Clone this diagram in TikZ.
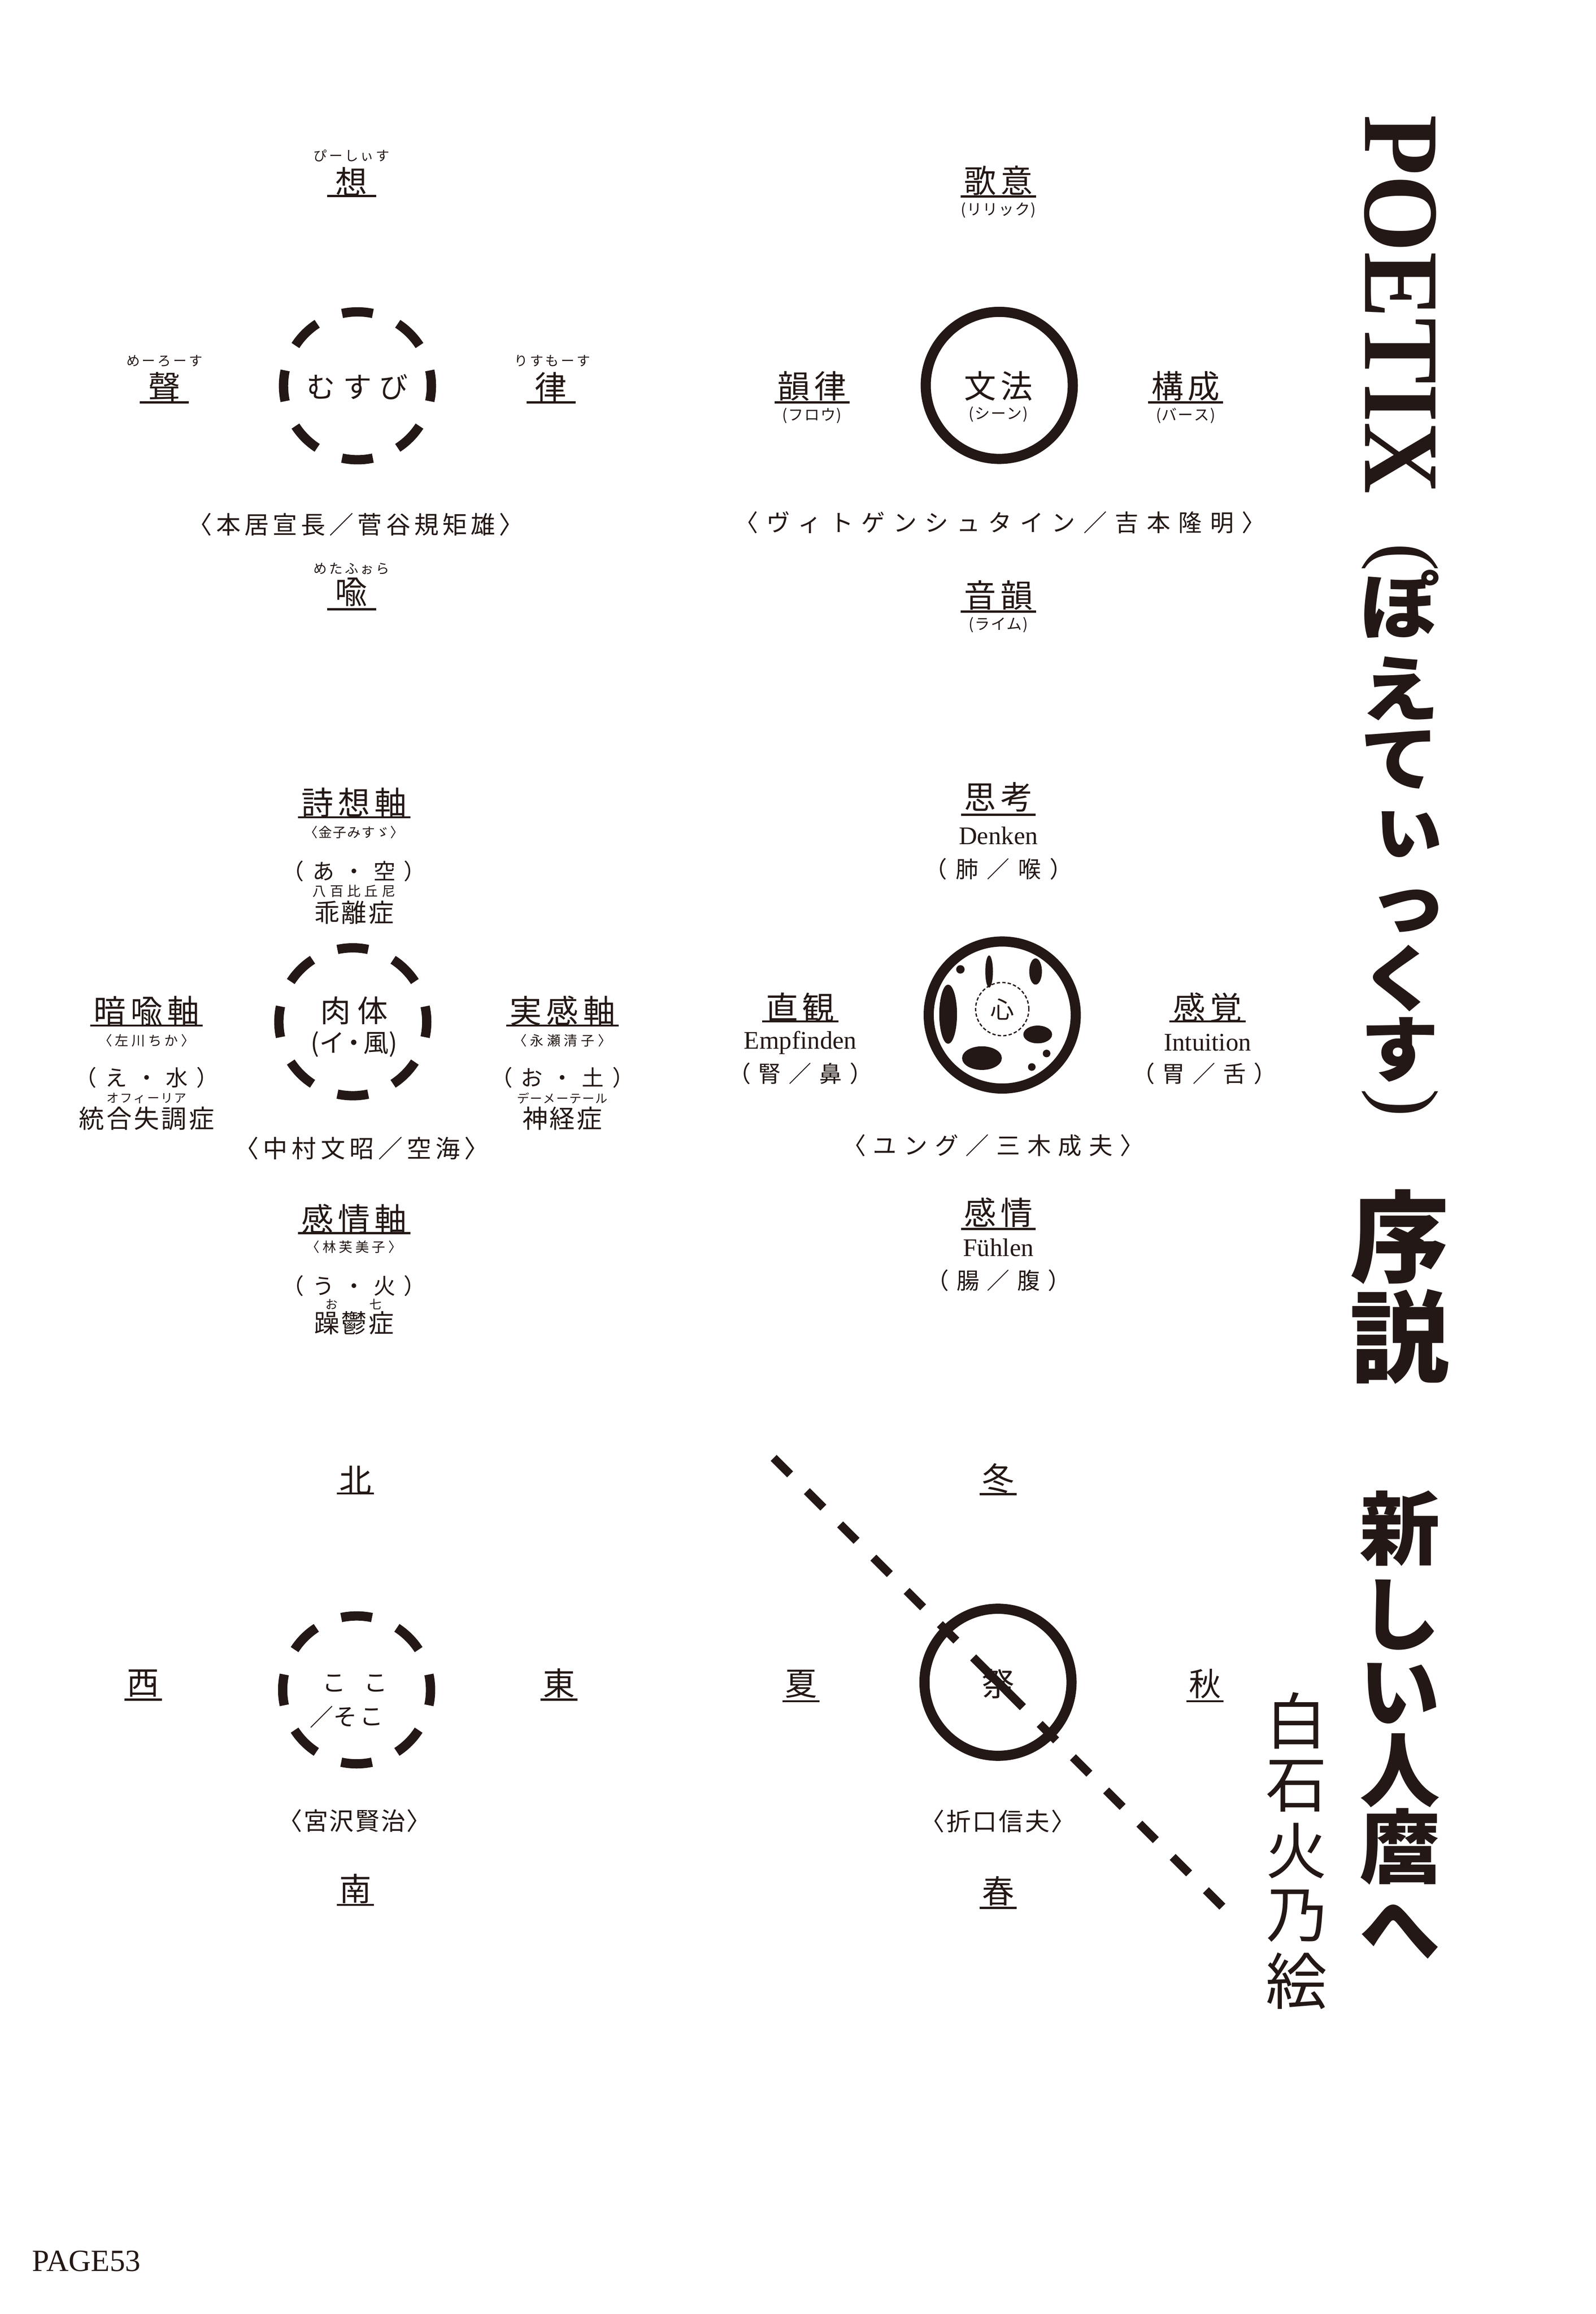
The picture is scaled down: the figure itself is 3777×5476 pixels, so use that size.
\documentclass[tikz,border=0pt]{standalone}
\usepackage{tikz}
\usepackage{graphicx}
\usepackage{fontspec}
\setmainfont{Liberation Serif}
\newfontfamily\jp{Noto Sans CJK JP}
\definecolor{ink}{RGB}{35,24,21}
\newcommand\fs[1]{\fontsize{#1}{#1}\selectfont}
\newcommand\wide[1]{\scalebox{1.1}[1]{#1}}
\ExplSyntaxOn
\cs_new_protected:Npn \trk #1#2 { \tl_map_inline:nn {#2} { ##1 \kern #1 } \kern -#1 }
\ExplSyntaxOff
\newcommand\ulin[3]{\draw[ul] ([shift={(-#2,#3)}]#1.center) -- ([shift={(#2,#3)}]#1.center);}
\newcommand\dashring[1]{\foreach \a in {0,45,...,315} \draw[dring] ([shift={(\a-12:175)}]#1) arc[start angle=\a-12, end angle=\a+12, radius=175];}
\tikzset{
  every node/.style={inner sep=0pt, outer sep=0pt, text=ink},
  lab/.style={font=\jp\fs{76}},
  rb/.style={font=\jp\fs{32}},
  sm/.style={font=\jp\fs{36}},
  cite/.style={font=\jp\fs{58}},
  kv/.style={font=\jp\fs{52}},
  org/.style={font=\jp\fs{54}},
  sym/.style={font=\jp\fs{60}},
  tiny/.style={font=\jp\fs{29}},
  lat/.style={font=\fs{60}},
  ul/.style={draw=ink, line width=5pt},
  dring/.style={draw=ink, line width=22pt},
  sring/.style={draw=ink, line width=24pt, circle, minimum size=348pt, inner sep=0pt},
  ttl/.style={font=\jp\bfseries\fs{190}, text height=152pt, text depth=0pt},
  ttlk/.style={font=\jp\bfseries\fs{170}, text height=136pt, text depth=0pt},
  ttlsm/.style={font=\jp\bfseries\fs{170}, text height=90pt, text depth=0pt},
  ttlbig/.style={font=\jp\bfseries\fs{235}, text height=188pt, text depth=0pt},
  ttlpar/.style={font=\fs{200}, rotate=-90},
  auth/.style={font=\jp\fs{145}},
}
\begin{document}
\begin{tikzpicture}[x=1pt,y=-1pt]
\fill[white] (0,0) rectangle (3777,5476);
\useasboundingbox (0,0) rectangle (3777,5476);

% ---------- top left ----------
\node[lab] (sou) at (832,430) {想};
\node[rb] (souR) at (832,369) {\trk{5pt}{ぴーしぃす}};
\ulin{sou}{58}{34}
\node[lab] (sei) at (389,916) {聲};
\node[rb] (seiR) at (389,854) {\trk{5pt}{めーろーす}};
\ulin{sei}{58}{36}
\node[lab] (ritsu) at (1304,916) {律};
\node[rb] (ritsuR) at (1307,854) {\trk{5pt}{りすもーす}};
\ulin{ritsu}{58}{36}
\coordinate (r1) at (846,913);
\dashring{r1}
\node[font=\jp\fs{68}] (musubi) at (846,916) {\trk{18pt}{むすび}};
\node[cite] (c1) at (842,1241) {\trk{9pt}{〈本居宣長／菅谷規矩雄〉}};
\node[lab] (yu) at (832,1401) {喩};
\node[rb] (yuR) at (832,1346) {\trk{5pt}{めたふぉら}};
\ulin{yu}{58}{41}

% ---------- top right ----------
\node[lab] (kai) at (2363,427) {\trk{10pt}{歌意}};
\ulin{kai}{89}{38}
\node[sm] (kaiP) at (2363,497) {\trk{2pt}{(リリック)}};
\node[sring] (bunpo) at (2365,912) {};
\node[lab] (bunpoT) at (2363,914) {\trk{10pt}{文法}};
\node[sm] (bunpoP) at (2363,980) {\trk{2pt}{(シーン)}};
\node[lab] (inritsu) at (1922,914) {\trk{10pt}{韻律}};
\ulin{inritsu}{89}{38}
\node[sm] (inritsuP) at (1922,984) {\trk{2pt}{(フロウ)}};
\node[lab] (kosei) at (2806,914) {\trk{10pt}{構成}};
\ulin{kosei}{89}{38}
\node[sm] (koseiP) at (2806,984) {\trk{2pt}{(バース)}};
\node[font=\jp\fs{56}] (c2) at (2367,1237) {\trk{19pt}{〈ヴィトゲンシュタイン／吉本隆明〉}};
\node[lab] (onin) at (2363,1409) {\trk{10pt}{音韻}};
\ulin{onin}{89}{38}
\node[sm] (oninP) at (2363,1479) {\trk{2pt}{(ライム)}};

% ---------- middle left ----------
\node[lab] (shiso) at (838,1899) {\trk{11pt}{詩想軸}};
\ulin{shiso}{133}{35}
\node[rb] (shisoA) at (838,1970) {\trk{2pt}{〈金子みすゞ〉}};
\node[kv] (shisoB) at (838,2062) {\trk{20pt}{（あ・空）}};
\node[rb] (shisoR) at (838,2109) {\trk{9pt}{八百比丘尼}};
\node[sym] (shisoC) at (838,2159) {\trk{4pt}{乖離症}};
\coordinate (r2) at (835,2418);
\dashring{r2}
\node[font=\jp\fs{72}] (nikutai) at (838,2392) {\trk{16pt}{肉体}};
\node[sym] (nikutaiP) at (838,2471) {(イ\kern-8pt・\kern-8pt風)};
\node[lab] (anyu) at (347,2392) {\trk{11pt}{暗喩軸}};
\ulin{anyu}{133}{35}
\node[rb] (anyuA) at (347,2462) {\trk{7pt}{〈左川ちか〉}};
\node[kv] (anyuB) at (347,2550) {\trk{20pt}{（え・水）}};
\node[tiny] (anyuR) at (347,2599) {\trk{3pt}{オフィーリア}};
\node[sym] (anyuC) at (347,2647) {\trk{5pt}{統合失調症}};
\node[lab] (jikkan) at (1331,2392) {\trk{11pt}{実感軸}};
\ulin{jikkan}{133}{35}
\node[rb] (jikkanA) at (1331,2462) {\trk{8pt}{〈永瀬清子〉}};
\node[kv] (jikkanB) at (1331,2550) {\trk{20pt}{（お・土）}};
\node[tiny] (jikkanR) at (1331,2599) {\trk{2pt}{デーメーテール}};
\node[sym] (jikkanC) at (1331,2647) {\trk{4pt}{神経症}};
\node[cite] (c3) at (856,2718) {\trk{10pt}{〈中村文昭／空海〉}};
\node[lab] (kanjo) at (838,2885) {\trk{11pt}{感情軸}};
\ulin{kanjo}{133}{33}
\node[rb] (kanjoA) at (838,2951) {\trk{7pt}{〈林芙美子〉}};
\node[kv] (kanjoB) at (838,3043) {\trk{20pt}{（う・火）}};
\node[tiny] (kanjoR1) at (785,3087) {お};
\node[tiny] (kanjoR2) at (889,3087) {七};
\node[sym] (kanjoC) at (838,3131) {\trk{4pt}{躁鬱症}};

% ---------- middle right ----------
\node[lab] (shiko) at (2363,1886) {\trk{10pt}{思考}};
\ulin{shiko}{88}{42}
\node[lat] (shikoL) at (2363,1978) {Denken};
\node[org] (shikoO) at (2363,2056) {\trk{20pt}{（肺／喉）}};
\node[sring] (kokoro) at (2372,2402) {};
\node[circle, draw=ink, line width=3pt, dash pattern=on 8pt off 5pt, minimum size=126pt] (kin) at (2372,2388) {};
\node[font=\jp\fs{56}] (shin) at (2372,2388) {心};
\fill[ink] (2273,2294) circle[radius=10];
\fill[ink] (2341,2299) ellipse[x radius=9, y radius=38];
\fill[ink] (2451,2299) ellipse[x radius=15, y radius=31];
\fill[ink] (2244,2400) ellipse[x radius=21, y radius=70];
\fill[ink] (2456,2448) ellipse[x radius=34, y radius=21];
\fill[ink] (2324,2504) ellipse[x radius=47, y radius=28];
\fill[ink] (2477,2493) circle[radius=9];
\fill[ink] (2442,2525) circle[radius=9];
\node[lab] (chokkan) at (1894,2384) {\trk{10pt}{直観}};
\ulin{chokkan}{90}{33}
\node[lat] (chokkanL) at (1894,2467) {Empfinden};
\node[org] (chokkanO) at (1894,2541) {\trk{18pt}{（腎／鼻）}};
\node[lab] (kankaku) at (2858,2384) {\trk{10pt}{感覚}};
\ulin{kankaku}{90}{33}
\node[lat] (kankakuL) at (2858,2467) {Intuition};
\node[org] (kankakuO) at (2850,2541) {\trk{18pt}{（胃／舌）}};
\node[font=\jp\fs{56}] (c4) at (2350,2711) {\trk{17pt}{〈ユング／三木成夫〉}};
\node[lab] (kanjo2) at (2363,2869) {\trk{10pt}{感情}};
\ulin{kanjo2}{88}{39}
\node[lat] (kanjo2L) at (2363,2952) {Fühlen};
\node[org] (kanjo2O) at (2363,3030) {\trk{18pt}{（腸／腹）}};

% ---------- bottom left ----------
\node[lab] (kita) at (841,3503) {北};
\ulin{kita}{44}{31}
\coordinate (r3) at (844,3999);
\dashring{r3}
\node[font=\jp\fs{56}] (ko1) at (791,3983) {こ};
\node[font=\jp\fs{56}] (ko2) at (889,3983) {こ};
\node[font=\jp\fs{56}] (sl) at (761,4063) {／};
\node[font=\jp\fs{56}] (so) at (817,4063) {そ};
\node[font=\jp\fs{56}] (ko3) at (879,4063) {こ};
\node[lab] (nishi) at (339,3983) {西};
\ulin{nishi}{44}{39}
\node[lab] (higashi) at (1323,3983) {東};
\ulin{higashi}{44}{39}
\node[cite] (c5) at (839,4309) {\trk{3pt}{〈宮沢賢治〉}};
\node[lab] (minami) at (841,4470) {南};
\ulin{minami}{44}{38}

% ---------- bottom right ----------
\node[lab] (fuyu) at (2362,3499) {冬};
\ulin{fuyu}{44}{37}
\node[sring] (matsuri) at (2362,3981) {};
\coordinate (dA) at (1831,3450);
\coordinate (dB) at (2893,4512);
\draw[ink, line width=20pt, dash pattern=on 55pt off 56.3pt] (dA) -- (dB);
\draw[ink, line width=20pt] ([shift={(-58.7,-58.7)}]matsuri.center) -- ([shift={(58.7,58.7)}]matsuri.center);
\node[lab] (matsuriT) at (2362,3985) {祭};
\node[lab] (natsu) at (1896,3985) {夏};
\ulin{natsu}{44}{41}
\node[lab] (aki) at (2852,3985) {秋};
\ulin{aki}{44}{41}
\node[cite] (c6) at (2362,4310) {\trk{4pt}{〈折口信夫〉}};
\node[lab] (haru) at (2362,4475) {春};
\ulin{haru}{44}{40}

% ---------- title ----------
\node[font=\bfseries\fs{254}, rotate=-90, anchor=base west] (poetix) at (3231,272) {\scalebox{0.92}[1]{POETIX}};
\node[ttlpar] (lp) at (3313,1318) {(};
\node[ttlk] (t1) at (3313,1430) {\wide{ぽ}};
\node[ttlk] (t2) at (3313,1626) {\wide{え}};
\node[ttlk] (t3) at (3313,1790) {\wide{て}};
\node[ttlsm] (t4) at (3332,1975) {\wide{ぃ}};
\node[ttlsm] (t5) at (3332,2152) {\wide{っ}};
\node[ttlk] (t6) at (3313,2310) {\wide{く}};
\node[ttlk] (t7) at (3313,2478) {\wide{す}};
\node[ttlpar] (rp) at (3313,2610) {)};
\node[ttlbig] (t8) at (3313,2922) {序};
\node[ttlbig] (t9) at (3313,3158) {説};
\node[ttl] (t10) at (3313,3612) {新};
\node[ttl] (t11) at (3313,3815) {し};
\node[ttl] (t12) at (3313,3998) {い};
\node[ttl] (t13) at (3313,4185) {人};
\node[ttl] (t14) at (3313,4366) {麿};
\node[ttl] (t15) at (3313,4560) {へ};

% ---------- author ----------
\node[auth] (a1) at (3068,4072) {白};
\node[auth] (a2) at (3068,4227) {石};
\node[auth] (a3) at (3068,4380) {火};
\node[auth] (a4) at (3068,4534) {乃};
\node[auth] (a5) at (3068,4688) {絵};

% ---------- page ----------
\node[font=\fs{73}, anchor=base west] (page) at (76,5375) {PAGE53};
\end{tikzpicture}
\end{document}
